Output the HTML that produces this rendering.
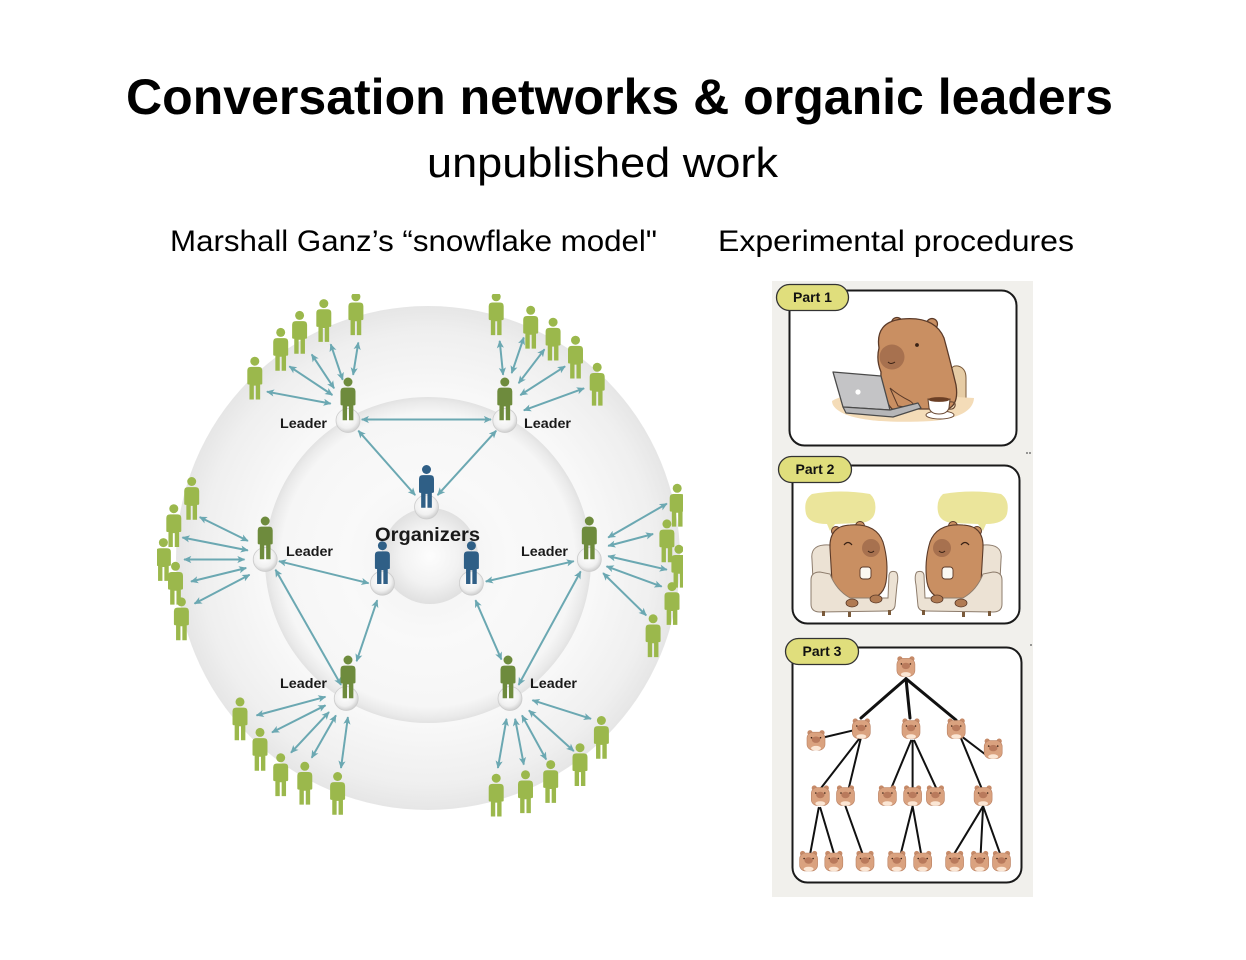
<!DOCTYPE html>
<html><head><meta charset="utf-8"><style>
html,body{margin:0;padding:0;background:#fff;}
svg{display:block;}
</style></head><body>
<svg width="1246" height="960" viewBox="0 0 1246 960" xmlns="http://www.w3.org/2000/svg">
<defs>
<radialGradient id="gOuter" cx="428" cy="558" r="252" gradientUnits="userSpaceOnUse">
<stop offset="0" stop-color="#fbfbfb"/><stop offset="0.66" stop-color="#f8f8f8"/><stop offset="0.9" stop-color="#efefef"/><stop offset="1" stop-color="#e6e6e6"/>
</radialGradient>
<radialGradient id="gMid" cx="428" cy="560" r="163" gradientUnits="userSpaceOnUse">
<stop offset="0" stop-color="#f1f1f1"/><stop offset="0.5" stop-color="#f9f9f9"/><stop offset="0.9" stop-color="#f6f6f6"/><stop offset="0.97" stop-color="#eaeaea"/><stop offset="1" stop-color="#e2e2e2"/>
</radialGradient>
<radialGradient id="gIn" cx="430" cy="556" r="48" gradientUnits="userSpaceOnUse">
<stop offset="0" stop-color="#fdfdfd"/><stop offset="0.6" stop-color="#f2f2f2"/><stop offset="1" stop-color="#e0e0e0"/>
</radialGradient>
<radialGradient id="gPed" cx="0.45" cy="0.4" r="0.6">
<stop offset="0" stop-color="#ffffff"/><stop offset="0.7" stop-color="#f0f0f0"/><stop offset="1" stop-color="#cfcfcf"/>
</radialGradient>
<marker id="ah" viewBox="0 0 10 10" refX="9" refY="5" markerWidth="8" markerHeight="8" markerUnits="userSpaceOnUse" orient="auto-start-reverse">
<path d="M0,0.5 L10,5 L0,9.5 L2.5,5 Z" fill="#6ba8b2"/>
</marker>
<g id="p">
<circle cx="0" cy="4.2" r="4.2"/>
<path d="M-7,13 Q-7,9.5 -3.5,9.5 L3.5,9.5 Q7,9.5 7,13 L7,25 Q7,26 6,26 L5,26 L5,40 L0.9,40 L0.9,27 L-0.9,27 L-0.9,40 L-5,40 L-5,26 L-6,26 Q-7,26 -7,25 Z"/>
</g>
<g id="c">
<circle cx="-6" cy="-8" r="2.6" fill="#c68a68"/>
<circle cx="6" cy="-8" r="2.6" fill="#c68a68"/>
<rect x="-9" y="-8.5" width="18" height="18" rx="6" fill="#daa27f" stroke="#b98163" stroke-width="0.6"/>
<ellipse cx="0" cy="-1" rx="4.2" ry="3.2" fill="#b97a5c"/>
<circle cx="-4.5" cy="-3" r="0.8" fill="#3a2215"/>
<circle cx="4.5" cy="-3" r="0.8" fill="#3a2215"/>
<ellipse cx="0" cy="7.5" rx="5" ry="2.3" fill="#fbe6d4"/>
</g>
<clipPath id="clipD"><rect x="157" y="294" width="526" height="528"/></clipPath>
<g id="capy2">
<path d="M812,494 Q840,489 870,494 Q877,500 875,512 Q873,522 860,523 L835,524 L830,531 L827,524 Q809,524 806,514 Q803,500 812,494 Z" fill="#ebe59b"/>
<path d="M812,560 Q810,546 824,545 Q840,544 846,556 L848,590 L814,600 Z" fill="#ece2d4" stroke="#8d7c6c" stroke-width="1"/>
<circle cx="836" cy="531" r="4.5" fill="#c98f62" stroke="#5b3a28" stroke-width="1"/>
<circle cx="860" cy="526" r="4.5" fill="#c98f62" stroke="#5b3a28" stroke-width="1"/>
<path d="M830,548 Q829,526 850,525 Q876,523 883,542 Q889,562 886,582 Q883,600 860,601 Q836,601 832,582 Z" fill="#c98f62" stroke="#5b3a28" stroke-width="1.1"/>
<circle cx="871" cy="548" r="9" fill="#a7714f"/>
<path d="M844,545 Q848,540 852,545" fill="none" stroke="#3a2215" stroke-width="1.2"/>
<path d="M868,551 Q871,554 874,551" fill="none" stroke="#3a2215" stroke-width="1"/>
<rect x="860" y="567" width="11" height="12" rx="3" fill="#fbf8f2" stroke="#5b3a28" stroke-width="0.9"/>
<path d="M811,580 Q811,572 820,572 L830,574 Q836,590 850,598 L888,598 L889,575 Q890,570 896,572 Q899,575 897,585 L895,606 Q894,611 888,611 L820,612 Q811,612 811,604 Z" fill="#ece2d4" stroke="#8d7c6c" stroke-width="1"/>
<ellipse cx="852" cy="603" rx="6" ry="4" fill="#b07a52" stroke="#5b3a28" stroke-width="0.8"/>
<ellipse cx="876" cy="599" rx="6" ry="4" fill="#b07a52" stroke="#5b3a28" stroke-width="0.8"/>
<rect x="822" y="611" width="3" height="5" fill="#7a5a3a"/>
<rect x="848" y="612" width="3" height="5" fill="#7a5a3a"/>
<rect x="888" y="610" width="3" height="5" fill="#7a5a3a"/>
</g>
</defs>

<rect width="1246" height="960" fill="#ffffff"/>

<!-- Titles -->
<text x="126" y="114" font-family="Liberation Sans, sans-serif" font-weight="bold" font-size="50" textLength="987" lengthAdjust="spacingAndGlyphs" fill="#000">Conversation networks &amp; organic leaders</text>
<text x="427" y="177" font-family="Liberation Sans, sans-serif" font-size="42" textLength="351" lengthAdjust="spacingAndGlyphs" fill="#000">unpublished work</text>
<text x="170" y="251" font-family="Liberation Sans, sans-serif" font-size="30" textLength="487" lengthAdjust="spacingAndGlyphs" fill="#000">Marshall Ganz’s “snowflake model"</text>
<text x="718" y="251" font-family="Liberation Sans, sans-serif" font-size="30" textLength="356" lengthAdjust="spacingAndGlyphs" fill="#000">Experimental procedures</text>

<!-- Snowflake diagram -->
<g clip-path="url(#clipD)">
<circle cx="428" cy="558" r="252" fill="url(#gOuter)"/>
<circle cx="428" cy="560" r="163" fill="url(#gMid)"/>
<circle cx="430" cy="556" r="48" fill="url(#gIn)"/>

<g stroke="#6ba8b2" stroke-width="2" fill="none" marker-start="url(#ah)" marker-end="url(#ah)">
<line x1="330.7" y1="403.6" x2="266.9" y2="391.7"/>
<line x1="332.4" y1="395" x2="289.3" y2="366.3"/>
<line x1="334.1" y1="388.3" x2="311.7" y2="354.4"/>
<line x1="342.7" y1="379.8" x2="330.7" y2="344.2"/>
<line x1="353.1" y1="374.8" x2="358.3" y2="342.5"/>
<line x1="503.1" y1="374.8" x2="499.7" y2="340.9"/>
<line x1="511.7" y1="373.1" x2="523.8" y2="337.5"/>
<line x1="518.6" y1="383.2" x2="544.5" y2="349.3"/>
<line x1="520.3" y1="395.1" x2="565.1" y2="366.3"/>
<line x1="523.8" y1="410.3" x2="584.1" y2="388.3"/>
<line x1="361.7" y1="419.5" x2="491" y2="419.5"/>
<line x1="358.3" y1="430.7" x2="415.2" y2="495.1"/>
<line x1="496.2" y1="430.7" x2="437.6" y2="495.1"/>
<line x1="247.9" y1="540.9" x2="199.7" y2="517.1"/>
<line x1="247.9" y1="550.4" x2="182.4" y2="537.5"/>
<line x1="244.5" y1="559.5" x2="184.1" y2="559.5"/>
<line x1="246.2" y1="568" x2="191" y2="581.5"/>
<line x1="249.6" y1="574.8" x2="194.5" y2="603.6"/>
<line x1="279" y1="561.2" x2="368.6" y2="583.2"/>
<line x1="275.5" y1="569.7" x2="341" y2="684.9"/>
<line x1="608.2" y1="537.5" x2="666.9" y2="503.6"/>
<line x1="608.2" y1="545.9" x2="653.1" y2="534"/>
<line x1="608.2" y1="556.1" x2="666.9" y2="569.7"/>
<line x1="606.5" y1="566.3" x2="661.7" y2="586.6"/>
<line x1="603.1" y1="573.1" x2="646.2" y2="615.4"/>
<line x1="573.8" y1="561.2" x2="485.8" y2="581.5"/>
<line x1="580.7" y1="571.4" x2="518.6" y2="684.9"/>
<line x1="377.2" y1="600.2" x2="356.6" y2="661.2"/>
<line x1="475.5" y1="600.2" x2="501.4" y2="659.5"/>
<line x1="325.5" y1="696.8" x2="256.5" y2="715.4"/>
<line x1="325.5" y1="705.3" x2="272" y2="732.4"/>
<line x1="329" y1="712.1" x2="291" y2="752.7"/>
<line x1="335.9" y1="715.4" x2="311.7" y2="757.8"/>
<line x1="347.9" y1="717.1" x2="341" y2="768"/>
<line x1="506.5" y1="718.8" x2="497.9" y2="768"/>
<line x1="515.1" y1="718.8" x2="523.8" y2="764.6"/>
<line x1="522" y1="715.4" x2="546.2" y2="759.5"/>
<line x1="528.9" y1="710.4" x2="573.8" y2="751.1"/>
<line x1="532.4" y1="700.2" x2="591" y2="718.8"/>
</g>

<!-- pedestals -->
<g fill="url(#gPed)" stroke="#cccccc" stroke-width="0.8">
<circle cx="348" cy="420.5" r="12"/>
<circle cx="504.8" cy="420.5" r="12"/>
<circle cx="265.2" cy="559.5" r="12"/>
<circle cx="589.3" cy="559.5" r="12"/>
<circle cx="346.2" cy="698.5" r="12"/>
<circle cx="510" cy="698.5" r="12"/>
<circle cx="426.5" cy="507" r="12"/>
<circle cx="382.4" cy="583.2" r="12"/>
<circle cx="471.4" cy="583.2" r="12"/>
</g>

<!-- followers -->
<g fill="#9bb84c">
<use href="#p" transform="translate(254.8,356.7) scale(1.07)"/>
<use href="#p" transform="translate(280.7,327.9) scale(1.07)"/>
<use href="#p" transform="translate(299.6,310.9) scale(1.07)"/>
<use href="#p" transform="translate(323.8,299.1) scale(1.07)"/>
<use href="#p" transform="translate(355.9,292.3) scale(1.07)"/>
<use href="#p" transform="translate(496.2,292.3) scale(1.07)"/>
<use href="#p" transform="translate(530.7,305.8) scale(1.07)"/>
<use href="#p" transform="translate(553.1,317.7) scale(1.07)"/>
<use href="#p" transform="translate(575.5,335.7) scale(1.07)"/>
<use href="#p" transform="translate(597.2,362.8) scale(1.07)"/>
<use href="#p" transform="translate(191.7,477) scale(1.07)"/>
<use href="#p" transform="translate(173.8,504.2) scale(1.07)"/>
<use href="#p" transform="translate(163.4,538.1) scale(1.07)"/>
<use href="#p" transform="translate(175.5,561.8) scale(1.07)"/>
<use href="#p" transform="translate(181.4,597.4) scale(1.07)"/>
<use href="#p" transform="translate(677.2,483.8) scale(1.07)"/>
<use href="#p" transform="translate(666.9,519.4) scale(1.07)"/>
<use href="#p" transform="translate(678.9,544.8) scale(1.07)"/>
<use href="#p" transform="translate(672,582.1) scale(1.07)"/>
<use href="#p" transform="translate(653.1,614.3) scale(1.07)"/>
<use href="#p" transform="translate(240,697.4) scale(1.07)"/>
<use href="#p" transform="translate(260,727.9) scale(1.07)"/>
<use href="#p" transform="translate(280.7,753.3) scale(1.07)"/>
<use href="#p" transform="translate(304.8,761.8) scale(1.07)"/>
<use href="#p" transform="translate(337.6,772) scale(1.07)"/>
<use href="#p" transform="translate(496.2,773.7) scale(1.07)"/>
<use href="#p" transform="translate(525.5,770.3) scale(1.07)"/>
<use href="#p" transform="translate(550.7,760.1) scale(1.07)"/>
<use href="#p" transform="translate(580,743.2) scale(1.07)"/>
<use href="#p" transform="translate(601.4,716) scale(1.07)"/>
</g>

<!-- leaders -->
<g fill="#6e8b3d">
<use href="#p" transform="translate(348,377.5) scale(1.07)"/>
<use href="#p" transform="translate(504.8,377.5) scale(1.07)"/>
<use href="#p" transform="translate(265.2,516.5) scale(1.07)"/>
<use href="#p" transform="translate(589.3,516.5) scale(1.07)"/>
<use href="#p" transform="translate(348,655.5) scale(1.07)"/>
<use href="#p" transform="translate(508,655.5) scale(1.07)"/>
</g>
<!-- organizers -->
<g fill="#2f5f86">
<use href="#p" transform="translate(426.5,465) scale(1.07)"/>
<use href="#p" transform="translate(382.4,541.2) scale(1.07)"/>
<use href="#p" transform="translate(471.4,541.2) scale(1.07)"/>
</g>

<g font-family="Liberation Sans, sans-serif" font-weight="bold" font-size="14" fill="#1a1a1a">
<text x="280" y="428" textLength="47" lengthAdjust="spacingAndGlyphs">Leader</text>
<text x="524" y="428" textLength="47" lengthAdjust="spacingAndGlyphs">Leader</text>
<text x="286" y="556" textLength="47" lengthAdjust="spacingAndGlyphs">Leader</text>
<text x="521" y="556" textLength="47" lengthAdjust="spacingAndGlyphs">Leader</text>
<text x="280" y="688" textLength="47" lengthAdjust="spacingAndGlyphs">Leader</text>
<text x="530" y="688" textLength="47" lengthAdjust="spacingAndGlyphs">Leader</text>
</g>
<text x="375" y="541" font-family="Liberation Sans, sans-serif" font-weight="bold" font-size="19" fill="#1a1a1a" textLength="105" lengthAdjust="spacingAndGlyphs">Organizers</text>
</g>

<!-- Right panel -->
<rect x="772" y="281" width="261" height="616" fill="#f1f0ec"/>

<!-- Part 1 -->
<rect x="789.5" y="290.5" width="227" height="155" rx="15" fill="#ffffff" stroke="#1a1a1a" stroke-width="2"/>
<path d="M951,372 Q951,365 958,366 Q966,368 966,378 L966,408 L951,408 Z" fill="#e6cca5" stroke="#7a5a3a" stroke-width="1"/>
<path d="M832,401 Q845,392 900,394 L974,398 Q973,417 932,421 Q872,424 847,415 Q832,409 832,401 Z" fill="#f4dcb8"/>
<circle cx="897" cy="323" r="5.5" fill="#c98f62" stroke="#5b3a28" stroke-width="1.2"/>
<circle cx="932" cy="324" r="5.5" fill="#c98f62" stroke="#5b3a28" stroke-width="1.2"/>
<path d="M879,348 Q875,322 902,319 Q935,316 944,338 Q950,360 956,385 Q959,404 948,409 L892,409 Q880,396 881,372 Q876,360 879,348 Z" fill="#c98f62" stroke="#5b3a28" stroke-width="1.3"/>
<circle cx="892" cy="357" r="12.5" fill="#a7714f"/>
<path d="M888,362 Q891,365 895,362" fill="none" stroke="#3a2215" stroke-width="1"/>
<circle cx="917" cy="345" r="1.9" fill="#3a2215"/>
<path d="M890,388 Q898,395 910,401 Q916,405 912,408 L898,406 Z" fill="#c98f62" stroke="#5b3a28" stroke-width="1"/>
<polygon points="833,372 881,376 890,410 843,407" fill="#c4c4c6" stroke="#4a4a4a" stroke-width="1.3" stroke-linejoin="round"/>
<circle cx="858" cy="392" r="2.6" fill="#ffffff"/>
<polygon points="843,407 890,410 918,403 921,408 893,417 846,413" fill="#b6b6b8" stroke="#4a4a4a" stroke-width="1.2" stroke-linejoin="round"/>
<ellipse cx="940" cy="415" rx="14" ry="4" fill="#ffffff" stroke="#6b4a35" stroke-width="1"/>
<path d="M949,402 Q956,401 955,406 Q954,410 948,409" fill="none" stroke="#6b4a35" stroke-width="1.2"/>
<path d="M928,399 L950,399 L949,408 Q947,414 939,414 Q931,414 929,408 Z" fill="#ffffff" stroke="#6b4a35" stroke-width="1.1"/>
<ellipse cx="939" cy="399.5" rx="10.5" ry="2.4" fill="#6b3f25"/>
<rect x="776.5" y="284.5" width="72" height="26" rx="13" fill="#e0de7c" stroke="#333" stroke-width="1.3"/>
<text x="812.5" y="302" text-anchor="middle" font-family="Liberation Sans, sans-serif" font-weight="bold" font-size="14" fill="#111">Part 1</text>
<circle cx="1027" cy="453" r="0.9" fill="#555"/><circle cx="1030" cy="453" r="0.9" fill="#555"/>

<!-- Part 2 -->
<rect x="792.5" y="465.5" width="227" height="158" rx="15" fill="#ffffff" stroke="#1a1a1a" stroke-width="2"/>
<use href="#capy2"/>
<use href="#capy2" transform="translate(1813,0) scale(-1,1)"/>
<rect x="778.5" y="456.5" width="73" height="26" rx="13" fill="#e0de7c" stroke="#333" stroke-width="1.3"/>
<text x="815" y="474" text-anchor="middle" font-family="Liberation Sans, sans-serif" font-weight="bold" font-size="14" fill="#111">Part 2</text>

<!-- Part 3 -->
<rect x="792.5" y="647.5" width="229" height="235" rx="15" fill="#ffffff" stroke="#1a1a1a" stroke-width="2"/>
<g stroke="#111" stroke-width="3" fill="none" stroke-linecap="round">
<line x1="906" y1="678.7" x2="861" y2="718"/>
<line x1="906" y1="678.7" x2="910" y2="718"/>
<line x1="906" y1="678.7" x2="956" y2="720"/>
</g>
<g stroke="#111" stroke-width="2" fill="none" stroke-linecap="round">
<line x1="852" y1="730.7" x2="823.7" y2="737.4"/>
<line x1="859" y1="739" x2="820" y2="789.4"/>
<line x1="860.6" y1="739" x2="848.9" y2="787.7"/>
<line x1="911" y1="740.7" x2="890.8" y2="789.4"/>
<line x1="912.6" y1="740.7" x2="912.6" y2="787.7"/>
<line x1="914.3" y1="740.7" x2="936" y2="787.7"/>
<line x1="963" y1="737.4" x2="984.8" y2="754"/>
<line x1="961.3" y1="739" x2="981.4" y2="787.7"/>
<line x1="818.7" y1="807.9" x2="810.3" y2="853.2"/>
<line x1="820.3" y1="807.9" x2="833.8" y2="853.2"/>
<line x1="845.5" y1="806.2" x2="862.3" y2="853.2"/>
<line x1="912.6" y1="806.2" x2="900.9" y2="853.2"/>
<line x1="912.6" y1="806.2" x2="921" y2="853.2"/>
<line x1="983.1" y1="806.2" x2="954.6" y2="853.2"/>
<line x1="983.1" y1="806.2" x2="980.7" y2="853.2"/>
<line x1="983.1" y1="806.2" x2="999.9" y2="853.2"/>
</g>
<use href="#c" x="905.9" y="666.9"/>
<use href="#c" x="861.3" y="729"/>
<use href="#c" x="911" y="729"/>
<use href="#c" x="956.2" y="729"/>
<use href="#c" x="816" y="740.7"/>
<use href="#c" x="993.2" y="749.1"/>
<use href="#c" x="820.3" y="796"/>
<use href="#c" x="845.5" y="796"/>
<use href="#c" x="887.4" y="796"/>
<use href="#c" x="912.6" y="796"/>
<use href="#c" x="935.4" y="796"/>
<use href="#c" x="983.1" y="796"/>
<use href="#c" x="808.6" y="861.5"/>
<use href="#c" x="833.8" y="861.5"/>
<use href="#c" x="865" y="861.5"/>
<use href="#c" x="896.8" y="861.5"/>
<use href="#c" x="922.7" y="861.5"/>
<use href="#c" x="954.6" y="861.5"/>
<use href="#c" x="979.7" y="861.5"/>
<use href="#c" x="1001.5" y="861.5"/>
<rect x="785.5" y="638.5" width="73" height="26" rx="13" fill="#e0de7c" stroke="#333" stroke-width="1.3"/>
<text x="822" y="656" text-anchor="middle" font-family="Liberation Sans, sans-serif" font-weight="bold" font-size="14" fill="#111">Part 3</text>
<circle cx="1031" cy="645" r="0.9" fill="#555"/>
</svg>
</body></html>
